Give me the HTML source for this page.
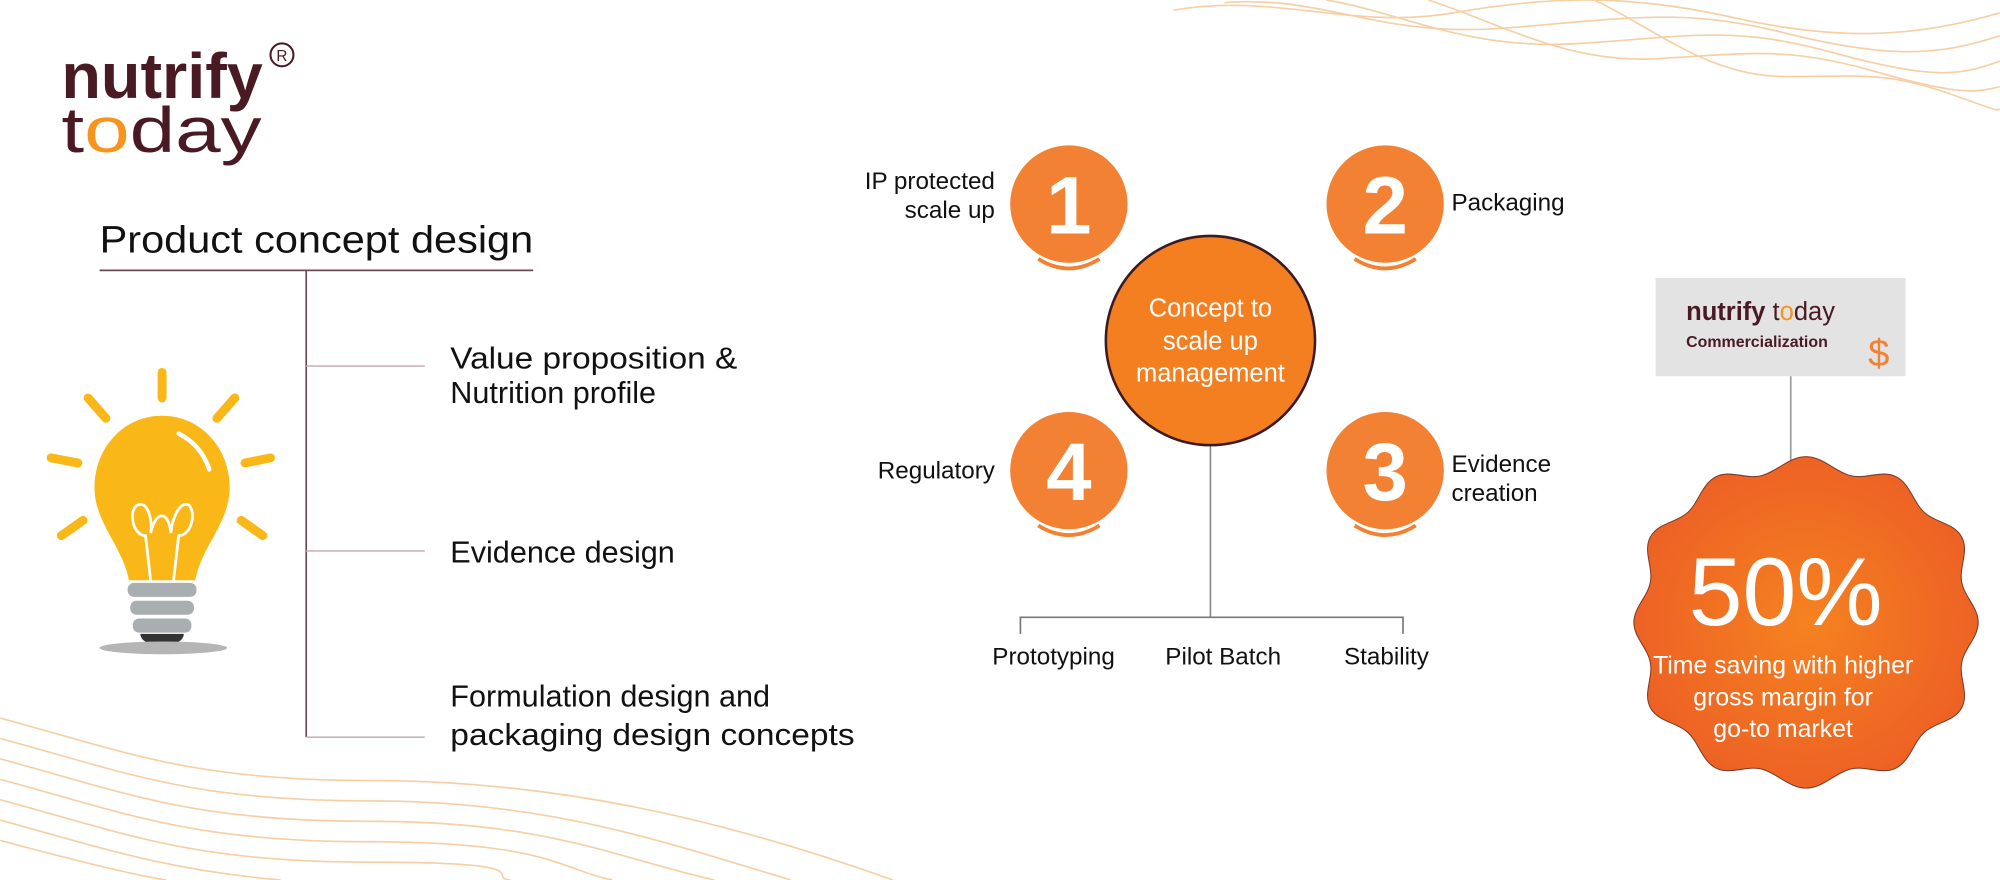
<!DOCTYPE html>
<html><head><meta charset="utf-8"><style>
html,body{margin:0;padding:0;background:#fff;width:2000px;height:880px;overflow:hidden}
svg{display:block;overflow:hidden}
text{font-family:"Liberation Sans",sans-serif}
</style></head><body>
<svg width="2000" height="880" viewBox="0 0 1568 690" xmlns="http://www.w3.org/2000/svg">
<defs>
<radialGradient id="g" cx="50%" cy="50%" r="55%">
<stop offset="0" stop-color="#f58220"/><stop offset="1" stop-color="#ec5f25"/>
</radialGradient>
<clipPath id="c"><rect x="0" y="0" width="1568" height="690"/></clipPath>
</defs>
<!-- wavy background lines -->
<g fill="none" stroke="#f6cfa5" stroke-width="1.3" clip-path="url(#c)">
<path d="M920 8 C1000 -6 1060 24 1140 10 S1280 -4 1360 14 S1500 30 1568 10"/>
<path d="M960 2 C1040 -4 1080 30 1180 22 S1320 6 1400 26 S1520 44 1568 28"/>
<path d="M1040 0 C1100 10 1150 40 1240 34 S1360 20 1440 42 S1540 58 1568 48"/>
<path d="M1120 0 C1180 20 1230 50 1300 46 S1400 36 1470 56 S1550 72 1568 68"/>
<path d="M1250 0 C1300 24 1340 60 1400 60 S1480 56 1530 74 S1560 84 1568 86"/>
<path d="M0 563 C100 590 150 612 290 612 S560 640 700 690"/>
<path d="M0 579 C100 606 150 628 290 628 S520 660 620 690"/>
<path d="M0 595 C100 622 150 644 290 644 S480 672 560 690"/>
<path d="M0 611 C100 638 150 660 290 660 S440 682 480 690"/>
<path d="M0 627 C100 654 150 676 290 676 S380 688 400 690"/>
<path d="M0 643 C80 665 130 682 220 690"/>
<path d="M0 659 C60 675 100 685 130 690"/>
</g>
<!-- logo -->
<text x="48" y="77" font-size="50" font-weight="bold" fill="#4a1a24" textLength="158" lengthAdjust="spacingAndGlyphs">nutrify</text>
<circle cx="221" cy="43" r="9" fill="none" stroke="#4a1a24" stroke-width="1.6"/>
<text x="221" y="48" font-size="12" fill="#4a1a24" text-anchor="middle">R</text>
<text x="48" y="119" font-size="50" fill="#4a1a24" textLength="157" lengthAdjust="spacingAndGlyphs">t<tspan fill="#f7941d">o</tspan>day</text>
<!-- title & tree -->
<text x="78" y="198" font-size="30" fill="#111" textLength="340" lengthAdjust="spacingAndGlyphs">Product concept design</text>
<g stroke="#6b4a55" stroke-width="1.3">
<line x1="78" y1="212" x2="418" y2="212"/>
<line x1="240" y1="212" x2="240" y2="578"/>
</g>
<g stroke="#c9b6bc" stroke-width="1.3">
<line x1="240" y1="287" x2="333" y2="287"/>
<line x1="240" y1="432" x2="333" y2="432"/>
<line x1="240" y1="578" x2="333" y2="578"/>
</g>
<g font-size="24" fill="#111">
<text x="353" y="289" textLength="225" lengthAdjust="spacingAndGlyphs">Value proposition &amp;</text>
<text x="353" y="316">Nutrition profile</text>
<text x="353" y="441">Evidence design</text>
<text x="353" y="554">Formulation design and</text>
<text x="353" y="584" textLength="317" lengthAdjust="spacingAndGlyphs">packaging design concepts</text>
</g>
<!-- bulb -->
<g stroke="#f9b817" stroke-width="7" stroke-linecap="round">
<line x1="127" y1="292" x2="127" y2="312"/>
<line x1="69" y1="312" x2="83" y2="328"/>
<line x1="184" y1="312" x2="170" y2="328"/>
<line x1="40" y1="359" x2="61" y2="363"/>
<line x1="192" y1="363" x2="212" y2="359"/>
<line x1="48" y1="420" x2="65" y2="408"/>
<line x1="206" y1="420" x2="189" y2="408"/>
</g>
<path d="M127 326 C96 326 74 352 74 382 C74 410 96 428 101 455 L153 455 C158 428 180 410 180 382 C180 352 158 326 127 326Z" fill="#f9b817"/>
<path d="M140 340 C152 346 160 356 164 368" stroke="#fff" stroke-width="3.5" fill="none" stroke-linecap="round"/>
<g stroke="#fff" stroke-width="2.2" fill="none">
<path d="M118 455 L114 420 C104 420 100 400 108 396 C116 392 120 410 118 418 C122 400 132 400 134 418 C134 410 140 392 148 396 C154 402 150 420 140 420 L136 455"/>
</g>
<g fill="#a9aeb0">
<rect x="100" y="457" width="54" height="11" rx="5"/>
<rect x="102" y="471" width="50" height="11" rx="5"/>
<rect x="104" y="485" width="46" height="11" rx="5"/>
</g>
<path d="M110 497 L144 497 C144 503 136 506 127 506 C118 506 110 503 110 497Z" fill="#333"/>
<ellipse cx="128" cy="508" rx="50" ry="5" fill="#b5b5b5"/>
<!-- center -->
<line x1="949" y1="349" x2="949" y2="484" stroke="#888" stroke-width="1.3"/>
<g stroke="#777" stroke-width="1.3" fill="none">
<path d="M800 497 L800 484 L1100 484 L1100 497"/>
</g>
<circle cx="949" cy="267" r="82" fill="#f47f20" stroke="#3b1a22" stroke-width="2"/>
<g font-size="20" fill="#fff" text-anchor="middle">
<text x="949" y="248">Concept to</text>
<text x="949" y="274">scale up</text>
<text x="949" y="299">management</text>
</g>
<g fill="#f28134">
<circle cx="838" cy="160" r="46"/>
<circle cx="1086" cy="160" r="46"/>
<circle cx="838" cy="369" r="46"/>
<circle cx="1086" cy="369" r="46"/>
</g>
<g stroke="#f28134" stroke-width="3" fill="none">
<path d="M814 203 Q838 218 862 203"/>
<path d="M1062 203 Q1086 218 1110 203"/>
<path d="M814 412 Q838 427 862 412"/>
<path d="M1062 412 Q1086 427 1110 412"/>
</g>
<g font-size="64" font-weight="bold" fill="#fff" text-anchor="middle">
<text x="838" y="183">1</text>
<text x="1086" y="183">2</text>
<text x="838" y="392">4</text>
<text x="1086" y="392">3</text>
</g>
<g font-size="19" fill="#111">
<text x="780" y="148" text-anchor="end">IP protected</text>
<text x="780" y="171" text-anchor="end">scale up</text>
<text x="780" y="375" text-anchor="end">Regulatory</text>
<text x="1138" y="165">Packaging</text>
<text x="1138" y="370">Evidence</text>
<text x="1138" y="393">creation</text>
<text x="826" y="521" text-anchor="middle">Prototyping</text>
<text x="959" y="521" text-anchor="middle">Pilot Batch</text>
<text x="1087" y="521" text-anchor="middle">Stability</text>
</g>
<!-- commercialization box -->
<rect x="1298" y="218" width="196" height="77" fill="#e3e3e3"/>
<text x="1322" y="251" font-size="20" font-weight="bold" fill="#4a1a24">nutrify <tspan font-weight="normal">t<tspan fill="#f7941d">o</tspan>day</tspan></text>
<text x="1322" y="272" font-size="12.5" font-weight="bold" fill="#4a1a24">Commercialization</text>
<text x="1473" y="287" font-size="30" fill="#f28134" text-anchor="middle">$</text>
<line x1="1404" y1="295" x2="1404" y2="378" stroke="#999" stroke-width="1.3"/>
<!-- blob -->
<path fill="url(#g)" stroke="#7a3a2a" stroke-width="0.8" d="M1551,488 C1551,500 1540,508 1538,520 C1536,532 1544,544 1538,555 C1532,566 1518,566 1509,574 C1500,582 1498,596 1487,602 C1476,608 1463,600 1451,603 C1439,606 1429,618 1416,618 C1403,618 1393,606 1381,603 C1369,600 1356,608 1345,602 C1334,596 1332,582 1323,574 C1314,566 1300,566 1294,555 C1288,544 1296,532 1294,520 C1292,508 1281,500 1281,488 C1281,476 1292,468 1294,456 C1296,444 1288,432 1294,421 C1300,410 1314,410 1323,402 C1332,394 1334,380 1345,374 C1356,368 1369,376 1381,373 C1393,370 1403,358 1416,358 C1429,358 1439,370 1451,373 C1463,376 1476,368 1487,374 C1498,380 1500,394 1509,402 C1518,410 1532,410 1538,421 C1544,432 1536,444 1538,456 C1540,468 1551,476 1551,488Z"/>
<text x="1400" y="490" font-size="76" fill="#fff" text-anchor="middle">50%</text>
<g font-size="19.5" fill="#fff" text-anchor="middle">
<text x="1398" y="528">Time saving with higher</text>
<text x="1398" y="553">gross margin for</text>
<text x="1398" y="578">go-to market</text>
</g>
</svg>
</body></html>
